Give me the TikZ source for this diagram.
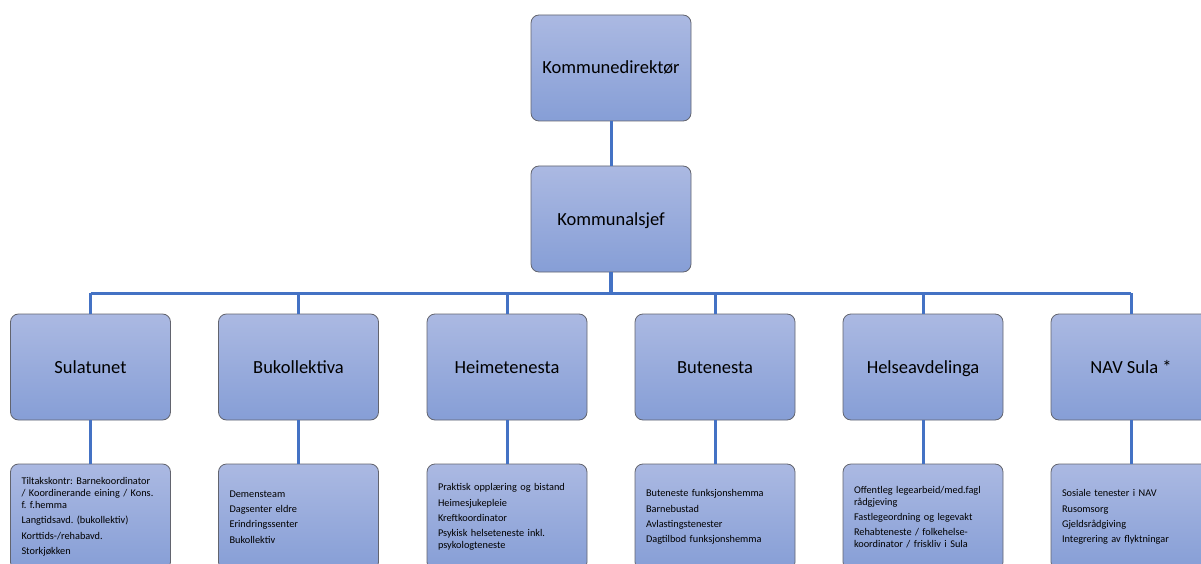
\documentclass[tikz,border=0pt]{standalone}
\usepackage{fontspec}
\setmainfont{Carlito}
\definecolor{boxtop}{RGB}{171,185,226}
\definecolor{boxbot}{RGB}{134,158,214}
\definecolor{boxedge}{RGB}{98,100,110}
\definecolor{orgblue}{RGB}{68,114,196}
\tikzset{
  unitbox/.style={draw=boxedge, line width=0.8pt, rounded corners=8pt,
    top color=boxtop, bottom color=boxbot, minimum width=160pt,
    minimum height=106pt, inner sep=0pt, text height=15pt, text depth=3pt,
    font=\fontsize{18.5}{22}\selectfont},
  taskbox/.style={draw=boxedge, line width=0.8pt, rounded corners=8pt,
    top color=boxtop, bottom color=boxbot, minimum width=160pt,
    minimum height=106pt, inner ysep=0pt, inner xsep=11pt, text width=138pt,
    align=left, font=\fontsize{10.3}{11.8}\selectfont\frenchspacing},
  orgline/.style={draw=orgblue, line width=3pt}
}
\begin{document}
\begin{tikzpicture}[x=1pt, y=-1pt]
\useasboundingbox (0,0) rectangle (1201,564);
\clip (0,0) rectangle (1201,564);
% top of the chart
\node [unitbox] (kd) at (611,68) {Kommunedirektør};
\node [unitbox] (ks) at (611,219) {Kommunalsjef};
% units
\node [unitbox] (u1) at (90.5,367) {Sulatunet};
\node [unitbox] (u2) at (298.5,367) {Bukollektiva};
\node [unitbox] (u3) at (507,367) {Heimetenesta};
\node [unitbox] (u4) at (715,367) {Butenesta};
\node [unitbox] (u5) at (923,367) {Helseavdelinga};
\node [unitbox] (u6) at (1131,367) {NAV Sula *};
% tasks under each unit
\node [taskbox] (t1) at (90.5,517) {Tiltakskontr: Barnekoordinator\\ / Koordinerande eining / Kons.\\ f. f.hemma\\[3.5pt]
  Langtidsavd. (bukollektiv)\\[3.5pt] Korttids-/rehabavd.\\[3.5pt] Storkjøkken};
\node [taskbox] (t2) at (298.5,517) {Demensteam\\[3.5pt] Dagsenter eldre\\[3.5pt] Erindringssenter\\[3.5pt] Bukollektiv};
\node [taskbox] (t3) at (507,517) {Praktisk opplæring og bistand\\[3.5pt] Heimesjukepleie\\[3.5pt] Kreftkoordinator\\[3.5pt]
  Psykisk helseteneste inkl.\\ psykologteneste};
\node [taskbox] (t4) at (715,517) {Buteneste funksjonshemma\\[3.5pt] Barnebustad\\[3.5pt] Avlastingstenester\\[3.5pt] Dagtilbod funksjonshemma};
\node [taskbox] (t5) at (923,517) {Offentleg legearbeid/med.fagl\\ rådgjeving\\[3.5pt] Fastlegeordning og legevakt\\[3.5pt]
  Rehabteneste / folkehelse-\\ koordinator / friskliv i Sula};
\node [taskbox] (t6) at (1131,517) {Sosiale tenester i NAV\\[3.5pt] Rusomsorg\\[3.5pt] Gjeldsrådgiving\\[3.5pt] Integrering av flyktningar};
% connectors
\coordinate (bus) at (611,293);
\draw [orgline] (kd.south) -- (ks.north);
\draw [orgline, line width=3.8pt] (ks.south) -- (bus);
\draw [orgline] (u1.north |- bus) -- (u6.north |- bus);
\draw [orgline] (u1.north |- bus) -- (u1.north);
\draw [orgline] (u2.north |- bus) -- (u2.north);
\draw [orgline] (u3.north |- bus) -- (u3.north);
\draw [orgline] (u4.north |- bus) -- (u4.north);
\draw [orgline] (u5.north |- bus) -- (u5.north);
\draw [orgline] (u6.north |- bus) -- (u6.north);
\draw [orgline] (u1.south) -- (t1.north);
\draw [orgline] (u2.south) -- (t2.north);
\draw [orgline] (u3.south) -- (t3.north);
\draw [orgline] (u4.south) -- (t4.north);
\draw [orgline] (u5.south) -- (t5.north);
\draw [orgline] (u6.south) -- (t6.north);
\end{tikzpicture}
\end{document}
